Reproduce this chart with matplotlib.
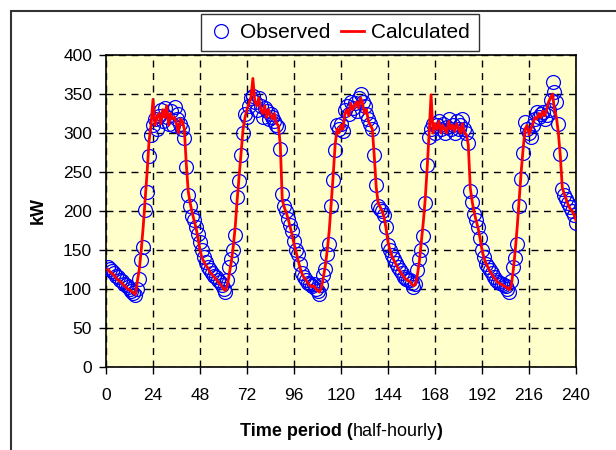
import numpy as np
import matplotlib
matplotlib.use("Agg")
import matplotlib.pyplot as plt
from matplotlib.patches import Rectangle
from matplotlib.lines import Line2D

plt.rcParams['font.family'] = ['Liberation Sans', 'DejaVu Sans']

# half-hourly periods 1..240 (five days of 48 periods)
periods = list(range(1, 241))

observed = [
    # day 1
    128, 126, 123, 120, 117, 115, 112, 110, 107, 105, 103, 100, 98, 95, 92, 100,
    113, 137, 154, 201, 225, 270, 297, 310, 318, 305, 322, 330, 315, 332, 320, 312,
    328, 310, 333, 318, 325, 312, 305, 293, 257, 220, 207, 194, 188, 180, 170, 160,
    # day 2
    150, 141, 135, 128, 125, 120, 117, 115, 112, 109, 105, 100, 96, 112, 128, 139,
    150, 169, 218, 238, 272, 300, 325, 320, 335, 345, 348, 340, 330, 345, 335, 320,
    332, 328, 318, 325, 320, 315, 310, 308, 280, 222, 207, 200, 190, 182, 175, 162,
    # day 3
    150, 145, 132, 120, 115, 111, 108, 106, 104, 106, 100, 97, 94, 105, 118, 126,
    145, 158, 207, 240, 278, 310, 305, 312, 302, 330, 335, 325, 340, 332, 338, 328,
    345, 350, 340, 335, 325, 318, 312, 305, 272, 233, 207, 203, 200, 195, 180, 156,
    # day 4
    150, 143, 138, 133, 128, 125, 120, 116, 113, 112, 111, 108, 103, 107, 125, 139,
    150, 168, 210, 259, 295, 305, 312, 300, 310, 315, 305, 312, 300, 308, 318, 305,
    310, 300, 315, 305, 310, 318, 305, 300, 287, 226, 211, 196, 188, 179, 166, 150,
    # day 5
    141, 132, 128, 124, 120, 115, 112, 109, 108, 107, 105, 104, 100, 96, 110, 128,
    140, 158, 207, 241, 275, 314, 305, 300, 295, 310, 318, 327, 320, 325, 327, 318,
    323, 330, 342, 365, 353, 340, 312, 273, 228, 220, 215, 210, 205, 200, 195, 184,
]

calculated = [
    # day 1
    125, 122, 120, 118, 115, 112, 110, 108, 105, 103, 100, 99, 97, 95, 93, 110,
    125, 150, 180, 215, 250, 290, 310, 343, 310, 320, 325, 312, 330, 320, 335, 310,
    325, 318, 320, 312, 300, 318, 315, 305, 260, 225, 210, 198, 188, 178, 165, 150,
    # day 2
    140, 135, 130, 127, 122, 119, 116, 113, 110, 107, 104, 100, 98, 105, 120, 135,
    155, 180, 215, 245, 275, 305, 320, 330, 338, 345, 370, 340, 335, 345, 330, 325,
    335, 320, 330, 322, 318, 325, 312, 310, 285, 215, 205, 198, 190, 180, 170, 158,
    # day 3
    148, 138, 128, 120, 115, 112, 108, 105, 103, 104, 101, 98, 96, 102, 115, 130,
    150, 175, 210, 245, 285, 305, 300, 310, 305, 325, 330, 322, 338, 330, 335, 340,
    332, 345, 338, 325, 330, 315, 310, 305, 270, 230, 210, 205, 200, 192, 178, 160,
    # day 4
    150, 142, 137, 132, 127, 123, 119, 116, 113, 111, 110, 107, 104, 106, 118, 135,
    160, 185, 215, 255, 300, 349, 300, 312, 305, 315, 300, 310, 305, 300, 315, 305,
    310, 302, 312, 305, 300, 312, 300, 298, 285, 230, 212, 198, 188, 178, 165, 150,
    # day 5
    140, 133, 128, 123, 119, 115, 112, 109, 107, 106, 104, 103, 101, 99, 105, 125,
    150, 180, 215, 250, 280, 305, 310, 298, 305, 312, 320, 318, 325, 320, 328, 322,
    330, 340, 345, 350, 330, 320, 300, 270, 230, 222, 215, 208, 203, 200, 195, 188,
]

x_ticks = list(range(0, 241, 24))
y_ticks = list(range(0, 401, 50))

fig = plt.figure(figsize=(6.16, 4.5), dpi=100)
ax = fig.add_axes([106 / 616, 1 - 367 / 450, 470 / 616, 312 / 450])
ax.set_facecolor('#FFFFCC')

ax.plot(periods, observed, linestyle='none', marker='o', markersize=10,
        markerfacecolor='none', markeredgecolor='#0000FF', markeredgewidth=0.9,
        zorder=3)
ax.plot(periods, calculated, color='#FF0000', linewidth=2, zorder=4)

ax.set_xlim(0, 240)
ax.set_ylim(0, 400)
ax.set_xticks(x_ticks)
ax.set_yticks(y_ticks)
ax.tick_params(axis='both', direction='out', length=5, width=1, labelsize=12.5,
               colors='black')
ax.tick_params(axis='x', pad=10)
ax.tick_params(axis='y', pad=5)
ax.grid(True, color='black', linestyle=(0, (5, 4)), linewidth=1)
ax.set_axisbelow(True)
for sp in ax.spines.values():
    sp.set_color('black')
    sp.set_linewidth(1.2)

ax.set_ylabel('kW', fontsize=13, fontweight='bold', labelpad=12)

# x label with mixed weights, centred under the axes
parts = [('Time period (', 'bold'), ('half-hourly', 'normal'), (')', 'bold')]
texts = [fig.text(0, 0, s, fontsize=13, fontweight=w, va='baseline')
         for s, w in parts]
fig.canvas.draw()
renderer = fig.canvas.get_renderer()
widths = [t.get_window_extent(renderer).width for t in texts]
total = sum(widths)
x0 = (341 - total / 2) / 616
y_base = 1 - 436 / 450
for t, w in zip(texts, widths):
    t.set_position((x0, y_base))
    x0 += w / 616

handles = [
    Line2D([], [], linestyle='none', marker='o', markersize=10,
           markerfacecolor='none', markeredgecolor='#0000FF', markeredgewidth=0.9),
    Line2D([], [], color='#FF0000', linewidth=2),
]
leg = fig.legend(handles, ['Observed', 'Calculated'], loc='center',
                 bbox_to_anchor=(340 / 616, 1 - 32.5 / 450), ncol=2,
                 fontsize=15, frameon=True, fancybox=False, shadow=False,
                 handlelength=1.1, handletextpad=0.35, columnspacing=0.5,
                 borderpad=0.45, borderaxespad=0)
leg.get_frame().set_edgecolor('black')
leg.get_frame().set_linewidth(1)

# outer chart border
fig.patches.append(Rectangle((11 / 616, -0.1), 1.2, 1.1 - 11 / 450,
                             transform=fig.transFigure, fill=False,
                             edgecolor='#333333', linewidth=1.5))

fig.savefig('out.png', dpi=100)
